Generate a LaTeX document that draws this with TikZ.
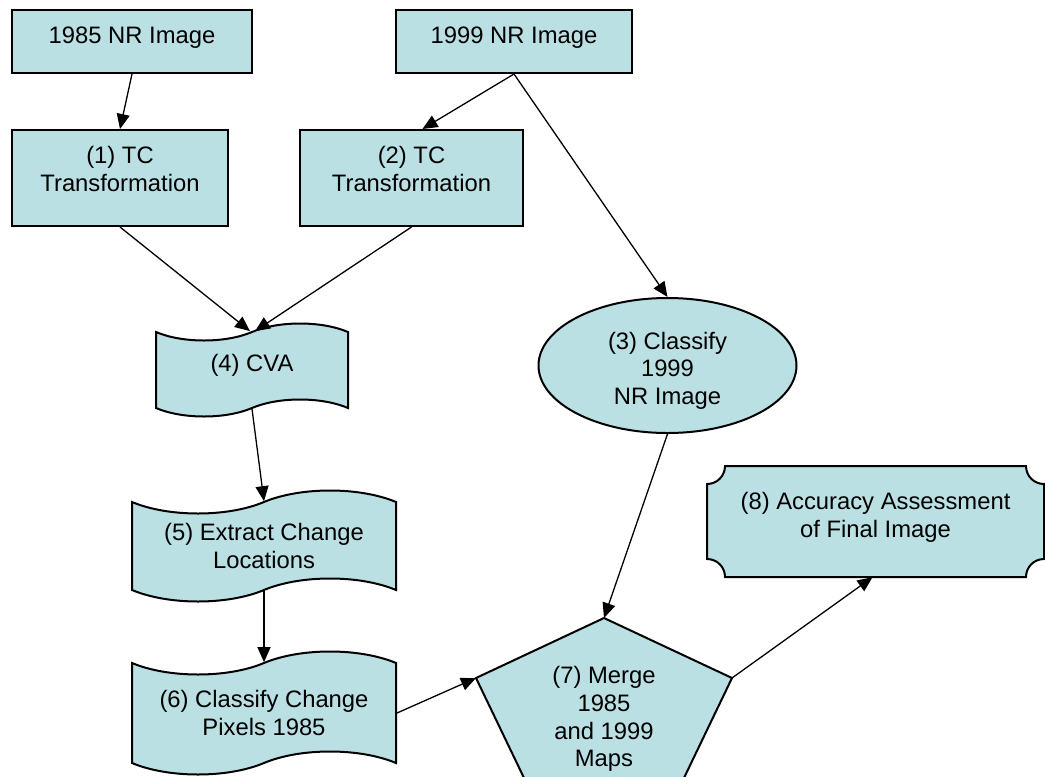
\documentclass[tikz,border=0pt]{standalone}
\usepackage{fontspec}
\setmainfont{Liberation Sans}
\usetikzlibrary{shapes.geometric,shapes.symbols,arrows.meta}
\definecolor{cajaazul}{RGB}{187,224,227}

\begin{document}
\begin{tikzpicture}[x=1pt,y=-1pt,
    forma/.style={draw=black, line width=2pt, fill=cajaazul},
    texto/.style={font=\fontsize{23.8}{27.7}\selectfont, align=center, inner sep=0pt},
    caja/.style={forma, texto, rectangle},
    cinta/.style={forma, texto, tape, tape bend top=in and out, tape bend bottom=in and out},
    flecha/.style={line width=1.3pt, -{Triangle[length=15pt,width=13pt]}}]
    % Fija el marco
    \useasboundingbox (0,0) rectangle (1045,777);

    % Dibuja las cajas de las imagenes
    \node[caja, minimum width=240pt, minimum height=63pt, text height=17.4pt, text depth=13.4pt] (img85) at (132,41.5) {1985 NR Image};
    \node[caja, minimum width=236pt, minimum height=63pt, text height=17.4pt, text depth=13.4pt] (img99) at (514,41.5) {1999 NR Image};
    \node[caja, minimum width=216pt, minimum height=96pt, text height=45.1pt, text depth=18.1pt] (tc1) at (120,178) {(1) TC\\Transformation};
    \node[caja, minimum width=223pt, minimum height=96pt, text height=45.1pt, text depth=18.1pt] (tc2) at (411.5,178) {(2) TC\\Transformation};

    % Dibuja la elipse y las cintas
    \node[forma, texto, ellipse, minimum width=258pt, minimum height=135pt, text height=78pt, text depth=0pt] (cls99) at (667.5,365.5) {(3) Classify\\1999\\NR Image};
    \node[cinta, minimum width=192pt, minimum height=93pt, tape bend height=17pt, text height=17.4pt, text depth=14.4pt] (cva) at (252,370) {(4) CVA};
    \node[cinta, minimum width=264pt, minimum height=111pt, tape bend height=23pt] (extract) at (264,546) {(5) Extract Change\\Locations};
    \node[cinta, minimum width=264pt, minimum height=123pt, tape bend height=23pt] (clschg) at (264,713) {(6) Classify Change\\Pixels 1985};

    % Dibuja el pentagono
    \coordinate (m-top) at (604,618);
    \coordinate (m-left) at (476,678);
    \coordinate (m-right) at (732,678);
    \coordinate (m-bl) at (525,780);
    \coordinate (m-br) at (683,780);
    \draw[forma] (m-top) -- (m-right) -- (m-br) -- (m-bl) -- (m-left) -- cycle;
    \node[texto] (merge) at (604,719) {(7) Merge\\1985\\and 1999\\Maps};

    % Dibuja la placa final
    \draw[forma] (725,466) -- (1026,466) .. controls (1026,476) and (1034,484) .. (1044,484)
        -- (1044,559) .. controls (1034,559) and (1026,567) .. (1026,577)
        -- (725,577) .. controls (725,567) and (717,559) .. (707,559)
        -- (707,484) .. controls (717,484) and (725,476) .. (725,466) -- cycle;
    \node[texto, minimum width=337pt, minimum height=111pt, text height=45.1pt, text depth=13.1pt] (acc) at (875.5,521.5) {(8) Accuracy Assessment\\of Final Image};

    % Dibuja las flechas
    \draw[flecha] (img85.south) -- (tc1.north);
    \draw[flecha] (img99.south) -- ([xshift=11pt]tc2.north);
    \draw[flecha] (img99.south) -- (cls99.north);
    \draw[flecha] (tc1.south) -- ([xshift=-2pt]cva.north);
    \draw[flecha] (tc2.south) -- ([xshift=3pt]cva.north);
    \draw[flecha] (cva.south) -- (extract.north);
    \draw[flecha] (extract.south) -- (clschg.north);
    \draw[flecha] (cls99.south) -- (m-top);
    \draw[flecha] (clschg.east) -- (m-left);
    \draw[flecha] (m-right) -- ([xshift=-3pt]acc.south);
\end{tikzpicture}
\end{document}
